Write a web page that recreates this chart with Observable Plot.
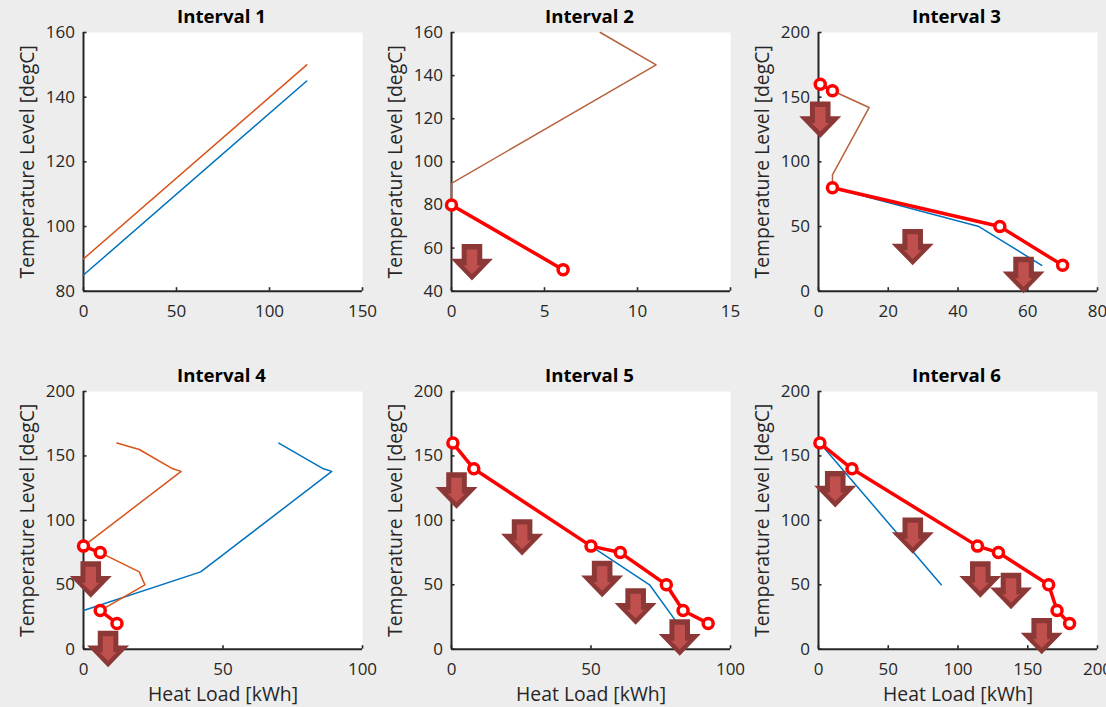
<!DOCTYPE html>
<html>
<head>
<meta charset="utf-8">
<script src="https://cdn.jsdelivr.net/npm/d3@7"></script>
<script src="https://cdn.jsdelivr.net/npm/@observablehq/plot@0.6"></script>
<style>
  html, body { margin: 0; padding: 0; background: #ededed; width: 1106px; height: 707px; overflow: hidden; }
  .panel { position: absolute; }
  .panel svg { overflow: visible; background: transparent; }
</style>
</head>
<body>
<div id="root"></div>
<script>
const FONT = '"Open Sans", sans-serif';

// Interval 1
const i1BlueX = [0, 120], i1BlueY = [85, 145];
const i1OrangeX = [0, 120], i1OrangeY = [90, 150];

// Interval 2
const i2BrownX = [0, 0, 11, 8], i2BrownY = [80, 90, 145, 160];
const i2RedX = [0, 6], i2RedY = [80, 50];
const i2ArrowX = [1.1], i2ArrowY = [45];

// Interval 3
const i3BrownX = [4, 14.5, 4, 4], i3BrownY = [155, 142, 90, 80];
const i3BlueX = [4, 46, 64], i3BlueY = [80, 50, 20];
const i3RedAX = [0.5, 4], i3RedAY = [160, 155];
const i3RedBX = [4, 52, 70], i3RedBY = [80, 50, 20];
const i3ArrowX = [0.5, 27, 58.8], i3ArrowY = [118.5, 20, -1.5];

// Interval 4
const i4BlueX = [70, 86, 89, 42, 0], i4BlueY = [160, 140, 138, 60, 30];
const i4OrangeAX = [12, 20, 32, 35, 0], i4OrangeAY = [160, 155, 140, 138, 80];
const i4OrangeBX = [6, 20, 22, 6], i4OrangeBY = [75, 60, 50, 30];
const i4RedAX = [0, 6], i4RedAY = [80, 75];
const i4RedBX = [6, 12], i4RedBY = [30, 20];
const i4ArrowX = [2.6, 8.8], i4ArrowY = [40, -14];

// Interval 5
const i5BlueX = [50, 71, 81], i5BlueY = [80, 50, 20];
const i5RedX = [0.5, 8, 50, 60.5, 77, 83, 92], i5RedY = [160, 140, 80, 75, 50, 30, 20];
const i5ArrowX = [1.8, 25.3, 54, 66, 81.8], i5ArrowY = [109, 72.7, 40.4, 19, -5];

// Interval 6
const i6BlueX = [1, 88], i6BlueY = [160, 50];
const i6RedX = [1, 24, 114, 129, 165, 171, 180], i6RedY = [160, 140, 80, 75, 50, 30, 20];
const i6ArrowX = [12, 67.6, 116, 138, 160], i6ArrowY = [110, 74, 40, 31, -4];

const BLUE = "#0072BD", ORANGE = "#D95319", BROWN = "#B5623C", RED = "#FF0000";
const AXIS = "#262626";

const pts = (xs, ys) => xs.map((x, i) => ({x, y: ys[i]}));

// Block-arrow glyphs, drawn with the tip at the data point.
const poly = (p) => ({draw(c) { p.forEach(([x, y], i) => i ? c.lineTo(x, y) : c.moveTo(x, y)); c.closePath(); }});
const arrowOuter = poly([[-10.3,-36.4],[10.3,-36.4],[10.3,-21.7],[21,-21.7],[0,0],[-21,-21.7],[-10.3,-21.7]]);
const arrowInner = poly([[-5.3,-31],[5.3,-31],[5.3,-15],[8.7,-15],[0,-6.4],[-8.7,-15],[-5.3,-15]]);

function panel({title, xDomain, yDomain, xTicks, yTicks, xLabel, marginBottom, lines = [], reds = [], arrows = []}) {
  const marks = [
    Plot.frame({fill: "white", stroke: "none"}),
    Plot.ruleX([xDomain[0]], {stroke: AXIS, strokeWidth: 2}),
    Plot.ruleY([yDomain[0]], {stroke: AXIS, strokeWidth: 2}),
    Plot.axisX({ticks: xTicks, tickSize: -3.5, tickPadding: 17, stroke: AXIS, strokeWidth: 1.6, fill: AXIS, fontSize: 17, label: null, tickFormat: d3.format("d")}),
    Plot.axisY({ticks: yTicks, tickSize: -3.5, tickPadding: 12, stroke: AXIS, strokeWidth: 1.6, fill: AXIS, fontSize: 17, label: null, tickFormat: d3.format("d")}),
    ...(xLabel ? [Plot.axisX({ticks: [], tickSize: 0, fill: AXIS, fontSize: 19.4, label: xLabel, labelAnchor: "center", labelArrow: "none", labelOffset: 52})] : []),
    Plot.axisY({ticks: [], tickSize: 0, fill: AXIS, fontSize: 19.4, label: "Temperature Level [degC]", labelAnchor: "center", labelArrow: "none", labelOffset: 63}),
    ...lines.map(([data, color]) => Plot.line(data, {x: "x", y: "y", stroke: color, strokeWidth: 1.5, curve: "linear"})),
    ...reds.map((data) => Plot.line(data, {x: "x", y: "y", stroke: RED, strokeWidth: 3.5, curve: "linear"})),
    ...reds.map((data) => Plot.dot(data, {x: "x", y: "y", r: 5, stroke: RED, strokeWidth: 3.5, fill: "white"})),
    Plot.dot(arrows, {x: "x", y: "y", symbol: arrowOuter, fill: "#8C3836", stroke: "none"}),
    Plot.dot(arrows, {x: "x", y: "y", symbol: arrowInner, fill: "#C0504D", stroke: "none"}),
    Plot.text([title], {frameAnchor: "top", dx: -1.5, dy: -15, fontWeight: 700, fontSize: 18.6, fill: "#000", lineAnchor: "middle"})
  ];
  return Plot.plot({
    width: 368, height: 345,
    marginLeft: 83, marginRight: 6, marginTop: 32, marginBottom,
    style: {fontFamily: FONT, fontSize: "17px", background: "transparent", overflow: "visible"},
    x: {domain: xDomain, ticks: xTicks, label: null},
    y: {domain: yDomain, ticks: yTicks, label: null},
    marks
  });
}

const panels = [
  {left: 0, top: 0, marginBottom: 54.3, title: "Interval 1", xDomain: [0, 150], yDomain: [80, 160], xTicks: [0, 50, 100, 150], yTicks: [80, 100, 120, 140, 160],
   lines: [[pts(i1BlueX, i1BlueY), BLUE], [pts(i1OrangeX, i1OrangeY), ORANGE]]},
  {left: 368, top: 0, marginBottom: 54.3, title: "Interval 2", xDomain: [0, 15], yDomain: [40, 160], xTicks: [0, 5, 10, 15], yTicks: [40, 60, 80, 100, 120, 140, 160],
   lines: [[pts(i2BrownX, i2BrownY), BROWN]], reds: [pts(i2RedX, i2RedY)], arrows: pts(i2ArrowX, i2ArrowY)},
  {left: 735, top: 0, marginBottom: 54.3, title: "Interval 3", xDomain: [0, 80], yDomain: [0, 200], xTicks: [0, 20, 40, 60, 80], yTicks: [0, 50, 100, 150, 200],
   lines: [[pts(i3BrownX, i3BrownY), BROWN], [pts(i3BlueX, i3BlueY), BLUE]], reds: [pts(i3RedAX, i3RedAY), pts(i3RedBX, i3RedBY)], arrows: pts(i3ArrowX, i3ArrowY)},
  {left: 0, top: 359, marginBottom: 55.3, title: "Interval 4", xDomain: [0, 100], yDomain: [0, 200], xTicks: [0, 50, 100], yTicks: [0, 50, 100, 150, 200], xLabel: "Heat Load [kWh]",
   lines: [[pts(i4BlueX, i4BlueY), BLUE], [pts(i4OrangeAX, i4OrangeAY), ORANGE], [pts(i4OrangeBX, i4OrangeBY), ORANGE]], reds: [pts(i4RedAX, i4RedAY), pts(i4RedBX, i4RedBY)], arrows: pts(i4ArrowX, i4ArrowY)},
  {left: 368, top: 359, marginBottom: 55.3, title: "Interval 5", xDomain: [0, 100], yDomain: [0, 200], xTicks: [0, 50, 100], yTicks: [0, 50, 100, 150, 200], xLabel: "Heat Load [kWh]",
   lines: [[pts(i5BlueX, i5BlueY), BLUE]], reds: [pts(i5RedX, i5RedY)], arrows: pts(i5ArrowX, i5ArrowY)},
  {left: 735, top: 359, marginBottom: 55.3, title: "Interval 6", xDomain: [0, 200], yDomain: [0, 200], xTicks: [0, 50, 100, 150, 200], yTicks: [0, 50, 100, 150, 200], xLabel: "Heat Load [kWh]",
   lines: [[pts(i6BlueX, i6BlueY), BLUE]], reds: [pts(i6RedX, i6RedY)], arrows: pts(i6ArrowX, i6ArrowY)}
];

const root = document.getElementById("root");
for (const {left, top, ...spec} of panels) {
  const div = document.createElement("div");
  div.className = "panel";
  div.style.left = left + "px";
  div.style.top = top + "px";
  div.appendChild(panel(spec));
  root.appendChild(div);
}
</script>
</body>
</html>
